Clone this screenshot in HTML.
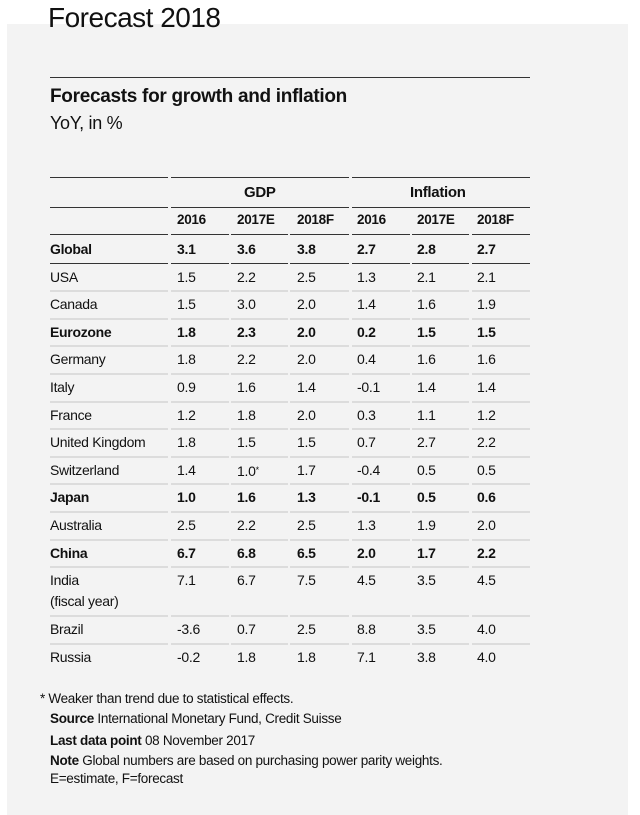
<!DOCTYPE html>
<html><head><style>
body{margin:0;width:640px;height:815px;background:#fff;font-family:"Liberation Sans",Arial,sans-serif;color:#111;position:relative;overflow:hidden}
.panel{position:absolute;left:7px;top:24px;width:621px;height:791px;background:#f3f3f3}
.t{position:absolute;white-space:nowrap}
.h1{left:48px;top:2px;font-size:28px;letter-spacing:-0.5px}
.rule{position:absolute;height:1px;background:#333}
.lr{position:absolute;height:2px;background:#dcdcdc}
.cell{position:absolute;font-size:14px;white-space:nowrap;letter-spacing:-0.3px}
.b{font-weight:bold}
.fn{position:absolute;left:50px;font-size:13.5px;white-space:nowrap;letter-spacing:-0.3px}
</style></head><body>
<div class="panel"></div>
<div class="t h1">Forecast 2018</div>
<div class="rule" style="left:50px;width:480px;top:77px"></div>
<div class="t b" style="left:50px;top:86px;font-size:19px;letter-spacing:-0.3px">Forecasts for growth and inflation</div>
<div class="t" style="left:50px;top:113px;font-size:18px;letter-spacing:-0.3px">YoY, in %</div>
<div id="tbl"></div>
<div class="fn" style="left:40px;top:691px">* Weaker than trend due to statistical effects.</div>
<div class="fn" style="top:711px"><b>Source</b> International Monetary Fund, Credit Suisse</div>
<div class="fn" style="top:733px"><b>Last data point</b> 08 November 2017</div>
<div class="fn" style="top:753px"><b>Note</b> Global numbers are based on purchasing power parity weights.</div>
<div class="fn" style="top:771px">E=estimate, F=forecast</div>
<script>
var segs=[[50,168],[171,229],[231,288],[290,349],[352,410],[412,469],[472,530]];
var gsegs=[[50,168],[171,349],[352,530]];
var cx=[50,177,237,297,357,417,477];
var h='';
function line(y,cls,s){s=s||segs;for(var i=0;i<s.length;i++){h+='<div class="'+cls+'" style="left:'+s[i][0]+'px;width:'+(s[i][1]-s[i][0])+'px;top:'+y+'px"></div>';}}
line(177,'rule',gsegs);
h+='<div class="cell b" style="left:244px;top:184px;font-size:15px">GDP</div>';
h+='<div class="cell b" style="left:410px;top:184px;font-size:15px">Inflation</div>';
line(207,'rule',gsegs);
var yrs=['2016','2017E','2018F','2016','2017E','2018F'];
for(var i=0;i<6;i++)h+='<div class="cell b" style="left:'+cx[i+1]+'px;top:212px;font-size:13.5px">'+yrs[i]+'</div>';
line(234,'rule');
var rows=[
['Global',1,'3.1','3.6','3.8','2.7','2.8','2.7'],
['USA',0,'1.5','2.2','2.5','1.3','2.1','2.1'],
['Canada',0,'1.5','3.0','2.0','1.4','1.6','1.9'],
['Eurozone',1,'1.8','2.3','2.0','0.2','1.5','1.5'],
['Germany',0,'1.8','2.2','2.0','0.4','1.6','1.6'],
['Italy',0,'0.9','1.6','1.4','-0.1','1.4','1.4'],
['France',0,'1.2','1.8','2.0','0.3','1.1','1.2'],
['United Kingdom',0,'1.8','1.5','1.5','0.7','2.7','2.2'],
['Switzerland',0,'1.4','1.0<span style="font-size:9px;vertical-align:3px">*</span>','1.7','-0.4','0.5','0.5'],
['Japan',1,'1.0','1.6','1.3','-0.1','0.5','0.6'],
['Australia',0,'2.5','2.2','2.5','1.3','1.9','2.0'],
['China',1,'6.7','6.8','6.5','2.0','1.7','2.2'],
['India<br>(fiscal year)',0,'7.1','6.7','7.5','4.5','3.5','4.5'],
['Brazil',0,'-3.6','0.7','2.5','8.8','3.5','4.0'],
['Russia',0,'-0.2','1.8','1.8','7.1','3.8','4.0']];
var y=241;
for(var r=0;r<rows.length;r++){
 var R=rows[r];var hgt=R[0].indexOf('<br>')>0?49:27.6;
 h+='<div class="cell'+(R[1]?' b':'')+'" style="left:50px;top:'+(y-2)+'px;line-height:21px">'+R[0]+'</div>';
 for(var i=0;i<6;i++)h+='<div class="cell'+(R[1]?' b':'')+'" style="left:'+cx[i+1]+'px;top:'+(y-2)+'px;line-height:21px">'+R[i+2]+'</div>';
 y+=hgt;
 if(r==0)line(Math.round(y-6),'rule');
 else if(r<rows.length-1)line(Math.round(y-6),'lr');
}
document.getElementById('tbl').innerHTML=h;
</script>
</body></html>
